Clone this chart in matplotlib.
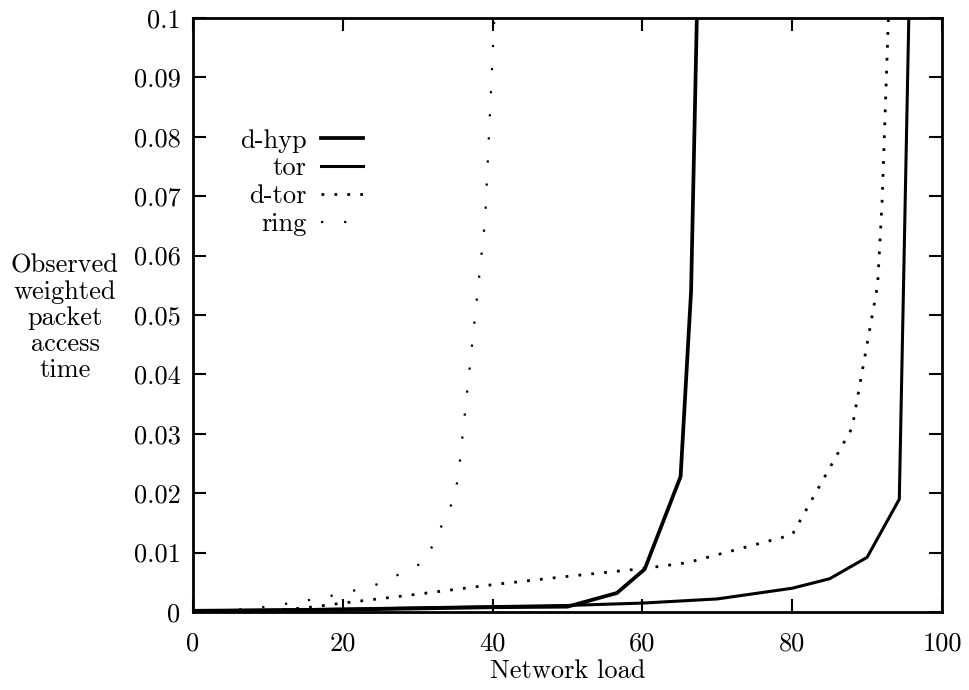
import numpy as np
import matplotlib
matplotlib.use('Agg')
import matplotlib.pyplot as plt

plt.rcParams['font.family'] = ['cmr10', 'DejaVu Serif']
plt.rcParams['axes.formatter.use_mathtext'] = True
plt.rcParams['mathtext.fontset'] = 'cm'

# network load (%) vs observed weighted packet access time
dhyp_x = [0, 10, 20, 30, 40, 50, 56.6, 60.3, 65.1, 66.5, 67.3]
dhyp_y = [0.0002, 0.0003, 0.0004, 0.0006, 0.0008, 0.0009, 0.0032, 0.0072, 0.0228, 0.054, 0.102]

tor_x = [0, 10, 20, 30, 40, 50, 60, 70, 80, 85, 90, 94.3, 95.6]
tor_y = [0.0002, 0.0003, 0.0005, 0.0007, 0.0009, 0.0011, 0.0015, 0.0022, 0.004, 0.0056, 0.0092, 0.019, 0.102]

dtor_x = [0, 10, 15, 20, 30, 40, 50, 60, 66, 80, 88, 91.4, 92, 92.9]
dtor_y = [0.0001, 0.0002, 0.0007, 0.0015, 0.003, 0.0046, 0.006, 0.0073, 0.0083, 0.013, 0.031, 0.055, 0.069, 0.102]

ring_x = [0, 5, 10, 15, 20, 25, 31, 35, 35.6, 39, 40.3]
ring_y = [0.0001, 0.0003, 0.0009, 0.0019, 0.0031, 0.0048, 0.0085, 0.0195, 0.025, 0.066, 0.102]

xticks = [0, 20, 40, 60, 80, 100]
yticks = [0, 0.01, 0.02, 0.03, 0.04, 0.05, 0.06, 0.07, 0.08, 0.09, 0.1]
ylabels = ['0', '0.01', '0.02', '0.03', '0.04', '0.05', '0.06', '0.07', '0.08', '0.09', '0.1']

fs = 19

fig = plt.figure(figsize=(9.69, 6.90), dpi=100)
ax = fig.add_axes([193/969, 78/690, 749/969, 594/690])

ax.plot(dhyp_x, dhyp_y, c='black', lw=2.7, label='d-hyp')
ax.plot(tor_x, tor_y, c='black', lw=2.2, label='tor')
ax.plot(dtor_x, dtor_y, c='black', lw=2.0, ls=(0, (1, 3.65)), dash_capstyle='butt', label='d-tor')
ax.plot(ring_x, ring_y, c='black', lw=1.6, ls=(0, (1, 9.4)), dash_capstyle='butt', label='ring')

ax.set_xlim(0, 100)
ax.set_ylim(0, 0.1)
ax.set_xticks(xticks)
ax.set_xticklabels([str(t) for t in xticks])
ax.set_yticks(yticks)
ax.set_yticklabels(ylabels)
ax.tick_params(direction='in', length=9.4, width=1.5, labelsize=fs, top=True, right=True)
ax.tick_params(axis='y', pad=9)
ax.tick_params(axis='x', pad=14)
for s in ax.spines.values():
    s.set_linewidth(2)

ax.set_xlabel('Network load', fontsize=fs, labelpad=3)
fig.text(65/969, 1 - 318/690, 'Observed\nweighted\npacket\naccess\ntime', fontsize=fs,
         ha='center', va='center', linespacing=1.12)

ax.legend(loc='upper right', bbox_to_anchor=(363/969, 1 - 129/690), bbox_transform=fig.transFigure,
          markerfirst=False, frameon=False, fontsize=fs, handlelength=1.6, handletextpad=0.55,
          labelspacing=0.15, borderpad=0, borderaxespad=0)

fig.savefig('out.png', dpi=100)
